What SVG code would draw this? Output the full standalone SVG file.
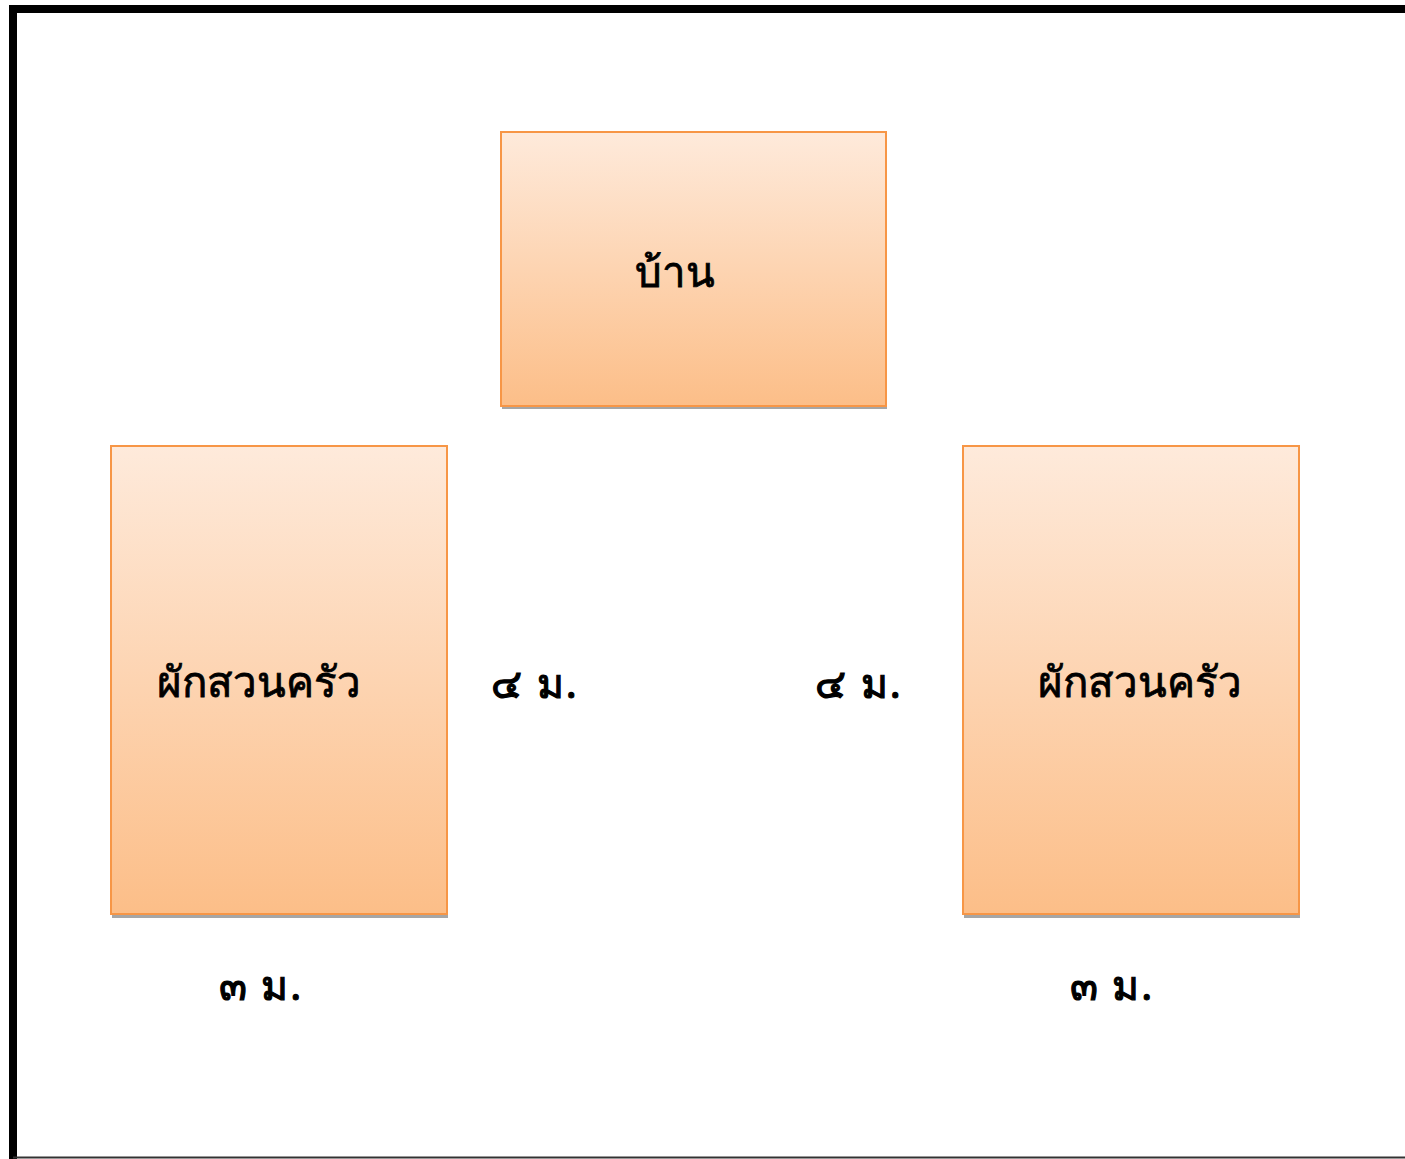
<svg xmlns="http://www.w3.org/2000/svg" width="1405" height="1159" viewBox="0 0 1405 1159">
<defs>
<linearGradient id="g" x1="0" y1="0" x2="0" y2="1">
<stop offset="0" stop-color="#FEEADB"/>
<stop offset="1" stop-color="#FCBE88"/>
</linearGradient>
<style>
.box{fill:url(#g);stroke:#F79646;stroke-width:2}
.sh{fill:#A6A6A6}
.t{font-family:"Noto Sans","DejaVu Sans",sans-serif;fill:#000}
.big{font-size:42px;stroke:#000;stroke-width:0.8}
.lab{font-size:41px;stroke:#000;stroke-width:1.2;letter-spacing:2px}
</style>
</defs>
<rect width="1405" height="1159" fill="#fff"/>
<g id="frame">
<path d="M13 1159 V9 H1405" fill="none" stroke="#000" stroke-width="8"/>
<line x1="13" y1="1157.5" x2="1405" y2="1157.5" stroke="#333" stroke-width="2"/>
</g>
<g id="house">
<rect class="sh" x="502" y="405" width="385" height="4"/>
<rect class="box" x="501" y="132" width="385" height="274"/>
<text class="t big" x="675" y="287" text-anchor="middle">บ้าน</text>
</g>
<g id="garden-left">
<rect class="sh" x="112" y="913" width="336" height="5"/>
<rect class="box" x="111" y="446" width="336" height="468"/>
<text class="t big" x="259" y="697" text-anchor="middle">ผักสวนครัว</text>
</g>
<g id="garden-right">
<rect class="sh" x="964" y="913" width="336" height="5"/>
<rect class="box" x="963" y="446" width="336" height="468"/>
<text class="t big" x="1140" y="697" text-anchor="middle">ผักสวนครัว</text>
</g>
<g id="labels">
<text class="t lab" x="535" y="698" text-anchor="middle">๔ ม.</text>
<text class="t lab" x="859" y="698" text-anchor="middle">๔ ม.</text>
<text class="t lab" x="261" y="1000" text-anchor="middle">๓ ม.</text>
<text class="t lab" x="1112" y="1000" text-anchor="middle">๓ ม.</text>
</g>
<g id="connectors"></g>
</svg>
